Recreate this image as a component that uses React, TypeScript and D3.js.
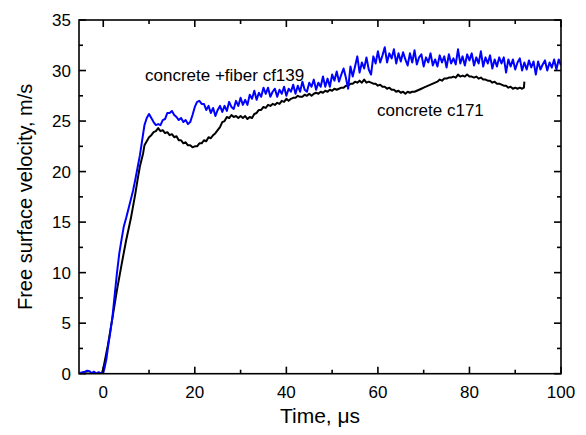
import React from "react";
import * as d3 from "d3";

const xTicks = [0, 20, 40, 60, 80, 100];
const xMinor = [10, 30, 50, 70, 90];
const yTicks = [0, 5, 10, 15, 20, 25, 30, 35];
const yMinor = [2.5, 7.5, 12.5, 17.5, 22.5, 27.5, 32.5];

const seriesNames = ["concrete +fiber cf139", "concrete c171"];

const fiberData: [number, number][] = [
  [-5.2,0.05],[-4.5,0.15],[-4,0.2],[-3.5,0.3],[-3,0.25],[-2.5,0.05],[-2,0.2],[-1.5,0.0],[-1,0.15],[-0.5,0.0],[0,0.1],
  [0.3,0.6],[0.7,1.5],[1,2.5],[1.5,4.0],[2,5.6],[2.5,7.8],[3,10.0],[3.5,11.9],[4,13.3],[4.5,14.6],[5,15.4],[5.5,16.3],
  [6,17.2],[6.5,18.1],[7,19.2],[7.5,20.4],[8,21.6],[8.5,23.1],[9,24.6],[9.5,25.3],[10,25.7],[10.5,25.3],[11,24.9],
  [11.5,24.6],[12,24.7],[12.5,24.6],[13,25.1],[13.5,25.2],[14,25.8],[14.5,25.8],[15,26.0],[15.5,25.6],[16,25.4],
  [16.5,25.1],[17,25.3],[17.5,24.9],[18,25.1],[18.5,24.7],[19,24.9],[19.5,25.6],[20,26.4],[20.5,26.9],[21,27.0],
  [21.5,26.7],[22,26.7],[22.5,26.1],[23,26.5],[23.5,25.8],[24,26.3],[24.5,25.5],[25,26.1],[25.5,26.5],[26,25.9],
  [26.5,26.5],[27,26.0],[27.5,26.9],[28,26.4],[28.5,26.2],[29,27.0],[29.5,26.5],[30,27.3],[30.5,26.6],[31,27.1],
  [31.5,26.6],[32,27.6],[32.5,27.2],[33,28.0],[33.5,27.1],[34,27.8],[34.5,27.4],[35,28.3],[35.5,27.7],[36,28.3],
  [36.5,27.4],[37,27.9],[37.5,28.2],[38,27.4],[38.5,28.1],[39,27.7],[39.5,28.4],[40,27.5],[40.5,28.2],[41,27.9],
  [41.5,28.6],[42,27.7],[42.5,28.5],[43,27.9],[43.5,28.9],[44,28.1],[44.5,27.9],[45,28.8],[45.5,28.4],[46,29.1],
  [46.5,28.1],[47,28.8],[47.5,28.4],[48,29.4],[48.5,28.4],[49,29.2],[49.5,28.4],[50,29.6],[50.5,29.0],[51,29.9],
  [51.5,28.9],[52,29.6],[52.5,30.2],[53,29.3],[53.5,28.2],[54,30.4],[54.5,29.4],[55,30.4],[55.5,31.4],[56,29.8],
  [56.5,30.8],[57,30.2],[57.5,31.3],[58,30.1],[58.5,29.6],[59,31.4],[59.5,30.7],[60,31.9],[60.5,30.8],[61,31.5],
  [61.5,32.3],[62,30.8],[62.5,31.7],[63,31.2],[63.5,32.1],[64,30.7],[64.5,31.7],[65,30.9],[65.5,31.8],[66,31.1],
  [66.5,30.5],[67,31.7],[67.5,30.8],[68,32.0],[68.5,30.6],[69,31.3],[69.5,31.6],[70,30.4],[70.5,31.3],[71,30.8],
  [71.5,31.7],[72,30.5],[72.5,31.1],[73,30.4],[73.5,31.5],[74,30.8],[74.5,31.4],[75,30.3],[75.5,31.6],[76,30.7],
  [76.5,31.2],[77,30.6],[77.5,32.1],[78,30.7],[78.5,31.4],[79,30.5],[79.5,31.6],[80,31.0],[80.5,31.7],[81,30.5],
  [81.5,31.3],[82,30.7],[82.5,31.9],[83,30.4],[83.5,31.3],[84,30.7],[84.5,31.5],[85,30.2],[85.5,31.1],[86,30.4],
  [86.5,31.3],[87,30.7],[87.5,31.3],[88,29.8],[88.5,31.1],[89,30.4],[89.5,31.1],[90,30.1],[90.5,30.8],[91,31.2],
  [91.5,30.0],[92,30.8],[92.5,30.1],[93,31.0],[93.5,30.3],[94,30.9],[94.5,29.6],[95,30.9],[95.5,30.1],[96,30.6],
  [96.5,31.0],[97,30.0],[97.5,30.8],[98,30.3],[98.5,31.1],[99,30.1],[99.5,31.1],[100,30.5]
];

const concreteData: [number, number][] = [
  [-5.2,0.02],[-4,0.05],[-3,0.0],[-2,0.05],[-1,0.0],[-0.3,0.05],[0,0.5],[1,2.8],[2,5.5],[3,8.3],[4,10.8],[5,13.2],
  [6,15.3],[7,17.8],[7.5,19.2],[8,20.5],[8.7,21.8],[9,22.6],[9.5,23.0],[10,23.4],[10.5,23.6],[11,23.9],[11.5,24.0],
  [12,24.3],[12.5,24.0],[13,24.1],[13.5,23.8],[14,23.9],[14.5,23.6],[15,23.7],[15.5,23.4],[16,23.5],[16.5,23.1],
  [17,23.1],[17.5,22.8],[18,22.9],[18.5,22.6],[19,22.6],[19.5,22.4],[20,22.5],[20.5,22.5],[21,22.8],[21.5,22.8],
  [22,23.1],[22.5,23.0],[23,23.4],[23.5,23.3],[24,23.6],[24.5,23.8],[25,24.1],[25.5,24.4],[26,24.9],[26.5,25.0],
  [27,25.4],[27.5,25.3],[28,25.6],[28.5,25.4],[29,25.5],[29.5,25.3],[30,25.5],[30.5,25.3],[31,25.5],[31.5,25.2],
  [32,25.4],[32.5,25.3],[33,25.7],[33.5,25.8],[34,26.1],[34.5,26.1],[35,26.4],[35.5,26.3],[36,26.6],[36.5,26.5],
  [37,26.7],[37.5,26.6],[38,26.8],[38.5,26.7],[39,27.0],[39.5,26.9],[40,27.2],[40.5,27.0],[41,27.2],[41.5,27.3],
  [42,27.3],[42.5,27.5],[43,27.4],[43.5,27.4],[44,27.6],[44.5,27.5],[45,27.7],[45.5,27.5],[46,27.7],[46.5,27.8],
  [47,27.7],[47.5,27.9],[48,27.8],[48.5,28.0],[49,27.9],[49.5,28.1],[50,28.0],[50.5,28.2],[51,28.1],[51.5,28.2],
  [52,28.3],[52.5,28.3],[53,28.5],[53.5,28.5],[54,28.7],[54.5,28.7],[55,28.9],[55.5,28.8],[56,29.0],[56.5,28.8],
  [57,29.1],[57.5,28.8],[58,28.9],[58.5,28.8],[59,28.7],[59.5,28.7],[60,28.5],[60.5,28.6],[61,28.4],[61.5,28.4],
  [62,28.2],[62.5,28.3],[63,28.1],[63.5,28.1],[64,27.9],[64.5,28.0],[65,27.8],[65.5,27.9],[66,27.7],[66.5,27.9],
  [67,27.8],[67.5,27.9],[68,27.9],[68.5,28.0],[69,28.1],[69.5,28.2],[70,28.3],[70.5,28.4],[71,28.5],[71.5,28.6],
  [72,28.7],[72.5,28.8],[73,28.9],[73.5,29.1],[74,29.0],[74.5,29.2],[75,29.2],[75.5,29.3],[76,29.3],[76.5,29.4],
  [77,29.3],[77.5,29.6],[78,29.4],[78.5,29.5],[79,29.4],[79.5,29.6],[80,29.4],[80.5,29.4],[81,29.3],[81.5,29.4],
  [82,29.2],[82.5,29.3],[83,29.1],[83.5,29.1],[84,29.0],[84.5,29.0],[85,28.8],[85.5,28.9],[86,28.7],[86.5,28.7],
  [87,28.6],[87.5,28.5],[88,28.5],[88.5,28.3],[89,28.4],[89.5,28.2],[90,28.3],[90.5,28.2],[91,28.3],[91.5,28.2],
  [91.9,28.3],[92,28.9]
];

const W = 586, H = 435;
const L = 79, R = 561, T = 20, B = 373.7;

export default function App() {
  const x = d3.scaleLinear().domain([-5.3, 100]).range([L, R]);
  const y = d3.scaleLinear().domain([0, 35]).range([B, T]);
  const line = d3.line<[number, number]>().x(d => x(d[0])).y(d => y(d[1]));
  const font = "'Liberation Sans', Arial, sans-serif";
  return (
    <svg width={W} height={H} style={{ position: "absolute", left: 0, top: 0, background: "#fff" }} fontFamily={font}>
      <defs>
        <clipPath id="plot"><rect x={L} y={T} width={R - L} height={B - T} /></clipPath>
      </defs>
      <g clipPath="url(#plot)" fill="none" strokeLinejoin="round">
        <path d={line(concreteData) || ""} stroke="#000" strokeWidth={2} />
        <path d={line(fiberData) || ""} stroke="#0000ff" strokeWidth={2} />
      </g>
      <rect x={L} y={T} width={R - L} height={B - T} fill="none" stroke="#000" strokeWidth={1.6} />
      {xTicks.map(t => (
        <g key={"x" + t}>
          <line x1={x(t)} x2={x(t)} y1={B} y2={B - 7} stroke="#000" strokeWidth={1.6} />
          <line x1={x(t)} x2={x(t)} y1={T} y2={T + 7} stroke="#000" strokeWidth={1.6} />
          <text x={x(t)} y={398} textAnchor="middle" fontSize={17}>{t}</text>
        </g>
      ))}
      {xMinor.map(t => (
        <g key={"xm" + t}>
          <line x1={x(t)} x2={x(t)} y1={B} y2={B - 4} stroke="#000" strokeWidth={1.6} />
          <line x1={x(t)} x2={x(t)} y1={T} y2={T + 4} stroke="#000" strokeWidth={1.6} />
        </g>
      ))}
      {yTicks.map(t => (
        <g key={"y" + t}>
          <line x1={L} x2={L + 7} y1={y(t)} y2={y(t)} stroke="#000" strokeWidth={1.6} />
          <line x1={R} x2={R - 7} y1={y(t)} y2={y(t)} stroke="#000" strokeWidth={1.6} />
          <text x={71} y={y(t) + 6} textAnchor="end" fontSize={17}>{t}</text>
        </g>
      ))}
      {yMinor.map(t => (
        <g key={"ym" + t}>
          <line x1={L} x2={L + 4} y1={y(t)} y2={y(t)} stroke="#000" strokeWidth={1.6} />
          <line x1={R} x2={R - 4} y1={y(t)} y2={y(t)} stroke="#000" strokeWidth={1.6} />
        </g>
      ))}
      <text x={(L + R) / 2} y={423} textAnchor="middle" fontSize={21}>Time, μs</text>
      <text transform={`translate(32,${(T + B) / 2}) rotate(-90)`} textAnchor="middle" fontSize={20}>Free surface velocity, m/s</text>
      <text x={145} y={81} fontSize={17}>{seriesNames[0]}</text>
      <text x={377} y={116} fontSize={17}>{seriesNames[1]}</text>
    </svg>
  );
}
